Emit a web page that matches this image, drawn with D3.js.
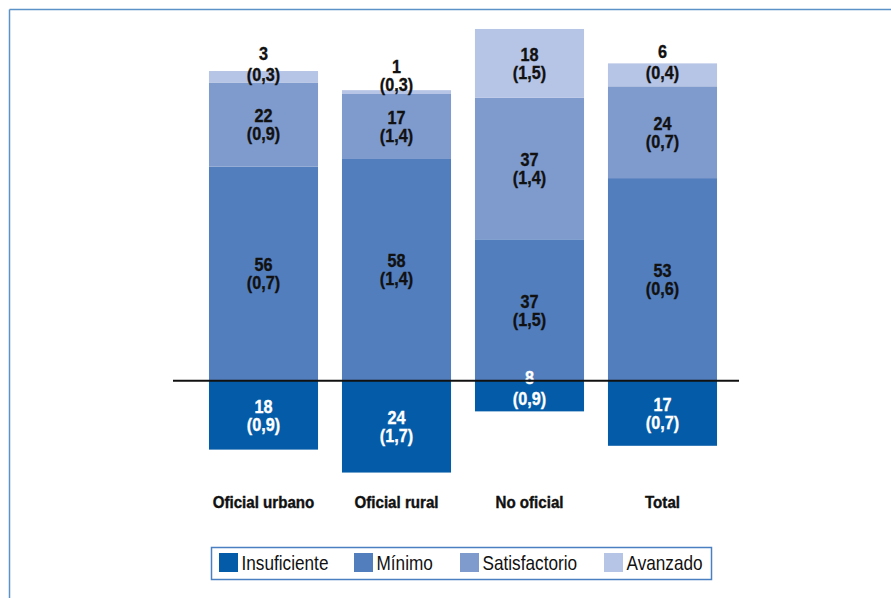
<!DOCTYPE html>
<html>
<head>
<meta charset="utf-8">
<script src="https://cdn.jsdelivr.net/npm/d3@7"></script>
<style>
  html, body { margin: 0; padding: 0; background: #fff; }
  svg { display: block; }
  text { font-family: "Liberation Sans", Arial, sans-serif; }
</style>
</head>
<body>
<svg id="chart" width="891" height="598"></svg>
<script>
const categories = ["Oficial urbano", "Oficial rural", "No oficial", "Total"];
const levels = ["Insuficiente", "Mínimo", "Satisfactorio", "Avanzado"];
const insuficiente = [18, 24, 8, 17];
const insuficienteSE = ["0,9", "1,7", "0,9", "0,7"];
const minimo = [56, 58, 37, 53];
const minimoSE = ["0,7", "1,4", "1,5", "0,6"];
const satisfactorio = [22, 17, 37, 24];
const satisfactorioSE = ["0,9", "1,4", "1,4", "0,7"];
const avanzado = [3, 1, 18, 6];
const avanzadoSE = ["0,3", "0,3", "1,5", "0,4"];
const colors = ["#045ca8", "#537ebd", "#7f9bcd", "#b6c4e5"];

const svg = d3.select("#chart");

// frame lines
svg.append("line").attr("x1", 9.5).attr("x2", 9.5).attr("y1", 9.5).attr("y2", 598)
  .attr("stroke", "#5b93c9").attr("stroke-width", 1.5);
svg.append("line").attr("x1", 9.5).attr("x2", 891).attr("y1", 9.5).attr("y2", 9.5)
  .attr("stroke", "#5b93c9").attr("stroke-width", 1.5);

const x = d3.scaleBand().domain(categories).range([197, 729]).paddingInner(0.18).paddingOuter(0.09);
const y = d3.scaleLinear().domain([-30, 95]).range([495.5, 17.5]);

const seValues = [insuficienteSE, minimoSE, satisfactorioSE, avanzadoSE];
const segs = [];
categories.forEach((c, i) => {
  segs.push({cat: c, level: 0, y0: -insuficiente[i], y1: 0, v: insuficiente[i], se: insuficienteSE[i]});
  let acc = 0;
  [minimo, satisfactorio, avanzado].forEach((arr, k) => {
    segs.push({cat: c, level: k + 1, y0: acc, y1: acc + arr[i], v: arr[i], se: seValues[k + 1][i]});
    acc += arr[i];
  });
});

svg.append("g").selectAll("rect").data(segs).join("rect")
  .attr("x", d => x(d.cat))
  .attr("width", x.bandwidth())
  .attr("y", d => y(d.y1))
  .attr("height", d => y(d.y0) - y(d.y1))
  .attr("fill", d => colors[d.level]);

// labels (condensed look via horizontal scaling)
const lab = svg.append("g").attr("font-weight", "bold").attr("font-size", 18)
  .attr("text-anchor", "middle");
function addLabel(cx, cy, txt, fill) {
  lab.append("text").attr("transform", `translate(${cx},${cy}) scale(0.9,1)`)
    .attr("dy", "0.36em").attr("fill", fill)
    .attr("stroke", fill).attr("stroke-width", 0.35).text(txt);
}
segs.forEach(d => {
  const top = y(d.y1), bot = y(d.y0), h = bot - top, c = (top + bot) / 2;
  let l1, l2;
  if (h >= 40) { l1 = c - 9; l2 = c + 9; }
  else if (h < 10) { l2 = top - 6; l1 = l2 - 18; }
  else { l2 = c + (d.level === 0 ? 2 : -2); l1 = l2 - 21; }
  const fill = d.level === 0 ? "#fff" : "#111";
  const cx = x(d.cat) + x.bandwidth() / 2;
  addLabel(cx, l1, d.v, fill);
  addLabel(cx, l2, "(" + d.se + ")", fill);
});

// zero line
svg.append("line").attr("x1", 173).attr("x2", 739).attr("y1", y(0)).attr("y2", y(0))
  .attr("stroke", "#111").attr("stroke-width", 2);

// category axis labels
const xAxis = svg.append("g").attr("transform", "translate(0,502)")
  .call(d3.axisBottom(x).tickSize(0).tickPadding(0));
xAxis.select(".domain").remove();
xAxis.selectAll("text").attr("font-size", 17).attr("font-weight", "bold").attr("fill", "#111")
  .attr("stroke", "#111").attr("stroke-width", 0.4)
  .attr("y", 0).attr("dy", "0.36em").attr("transform", "scale(0.89,1)")
  .style("font-family", "'Liberation Sans', Arial, sans-serif");

// legend
const leg = svg.append("g");
leg.append("rect").attr("x", 211.5).attr("y", 547.5).attr("width", 500).attr("height", 32)
  .attr("fill", "#fff").attr("stroke", "#4a80c2").attr("stroke-width", 1.5);
const legX = [219, 354, 460, 604];
levels.forEach((l, i) => {
  leg.append("rect").attr("x", legX[i]).attr("y", 553).attr("width", 19).attr("height", 19).attr("fill", colors[i]);
  leg.append("text").attr("transform", `translate(${legX[i] + 22.5},563) scale(0.86,1)`).attr("dy", "0.36em")
    .attr("font-size", 20).attr("fill", "#111").text(l);
});
</script>
</body>
</html>
